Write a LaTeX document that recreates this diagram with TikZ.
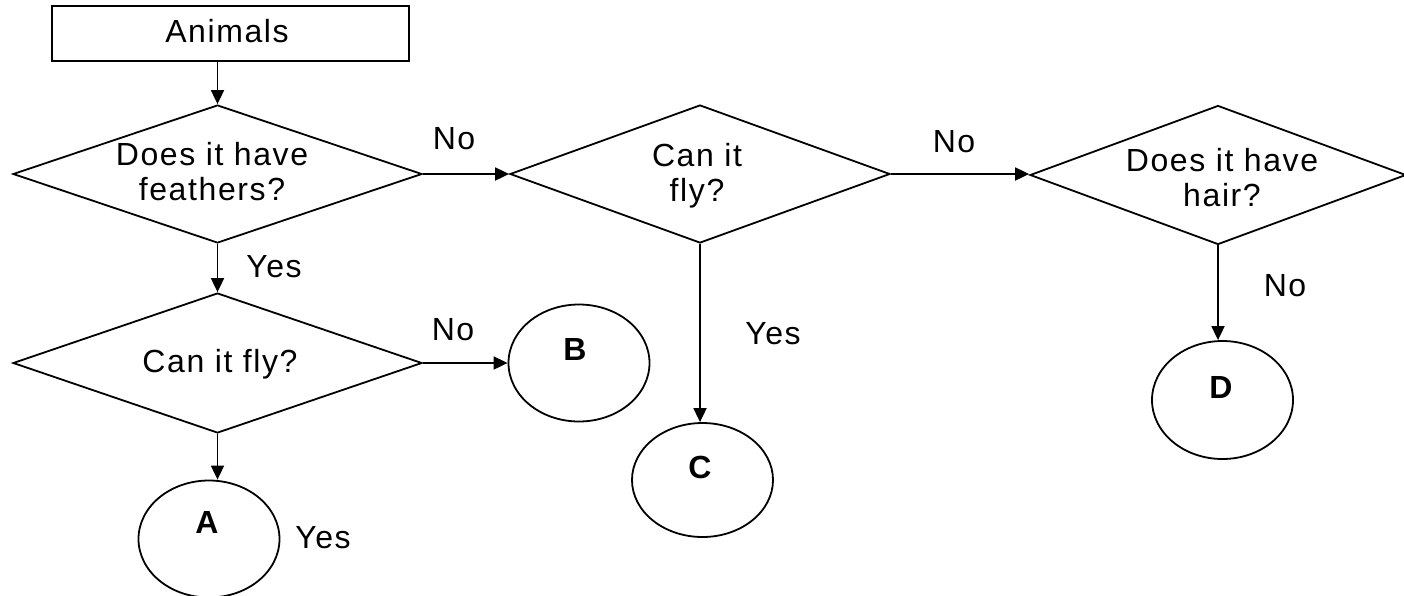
\documentclass[tikz,border=0pt]{standalone}
\usepackage{fontspec}
\setmainfont{Liberation Sans}[LetterSpace=5]
\usetikzlibrary{shapes.geometric,arrows.meta}

\begin{document}
\begin{tikzpicture}[x=1pt,y=-1pt,
  line width=1.8pt,
  txt/.style={font=\fontsize{32}{35}\selectfont, inner sep=0pt, align=center},
  lbl/.style={font=\fontsize{32}{35}\selectfont, inner sep=0pt, anchor=base},
  letter/.style={font=\fontsize{32}{35}\selectfont\bfseries, inner sep=0pt, anchor=base},
  startbox/.style={draw, rectangle, minimum width=357pt, minimum height=55pt, inner sep=0pt},
  decision/.style={draw, diamond, minimum height=138pt, inner sep=0pt},
  result/.style={draw, ellipse, minimum width=141pt, minimum height=117pt, inner sep=0pt},
  arr/.style={-{Triangle[length=14pt,width=13pt]}}
]
\useasboundingbox (0,0) rectangle (1404,595);

% start box
\node[startbox] (start) at (230.5,33.5) {};
\node[lbl] (startT) at (227,42) {Animals};

% decisions
\node[decision, minimum width=409pt] (feath) at (217.5,174) {};
\node[txt] (feathT) at (212,172) {Does it have\\feathers?};

\node[decision, minimum width=380pt] (flyA) at (700,174) {};
\node[txt] (flyAT) at (697,176) {Can it\\fly?};

\node[decision, minimum width=376pt, minimum height=139pt] (hair) at (1218,175) {};
\node[txt] (hairT) at (1222,178) {Does it have\\hair?};

\node[decision, minimum width=409pt, minimum height=140pt] (flyB) at (217.5,363) {};
\node[lbl] (flyBT) at (220,372) {Can it fly?};

% outcomes
\node[result] (A) at (209,539) {};
\node[letter] (AT) at (207,533) {A};
\node[result] (B) at (579,363) {};
\node[letter] (BT) at (575,360) {B};
\node[result, minimum height=114pt] (C) at (702.5,480) {};
\node[letter] (CT) at (700,478) {C};
\node[result, minimum height=118pt] (D) at (1222.5,400) {};
\node[letter] (DT) at (1221,398) {D};

% connectors
\draw[arr] (start.south -| feath.north) -- (feath.north);
\draw[arr] (feath.east) -- (flyA.west);
\draw[arr] (flyA.east) -- (flyA.east -| hair.west);
\draw[arr] (feath.south) -- (flyB.north);
\draw[arr] (flyB.east) -- (B.west);
\draw[arr] (flyB.south) -- (flyB.south |- A.north);
\draw[arr] (flyA.south) -- (flyA.south |- C.north);
\draw[arr] (hair.south) -- (hair.south |- D.north);

% branch labels
\node[lbl] (no1) at (454,149) {No};
\node[lbl] (no2) at (954,152) {No};
\node[lbl] (yes1) at (274,277) {Yes};
\node[lbl] (no3) at (453,340) {No};
\node[lbl] (yes2) at (773,344) {Yes};
\node[lbl] (no4) at (1285,296) {No};
\node[lbl] (yes3) at (323,548) {Yes};
\end{tikzpicture}
\end{document}
